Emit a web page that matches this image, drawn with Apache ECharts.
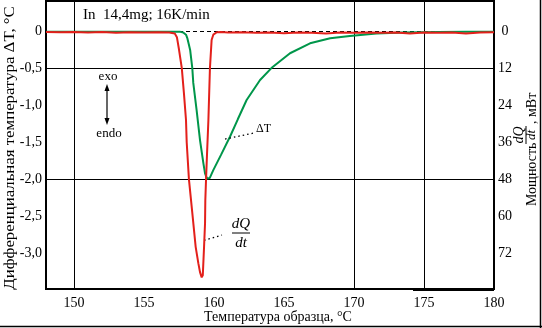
<!DOCTYPE html>
<html><head><meta charset="utf-8">
<script src="https://cdn.jsdelivr.net/npm/echarts@6/dist/echarts.min.js"></script>
<style>html,body{margin:0;padding:0;background:#fff}#c{width:542px;height:328px}</style>
</head><body><div id="c"></div>
<script>
// ---- data ----
const xTicks = [150, 155, 160, 165, 170, 175, 180];
const leftTicks = [0, -0.5, -1.0, -1.5, -2.0, -2.5, -3.0];
const leftTickLabels = ['0', '-0,5', '-1,0', '-1,5', '-2,0', '-2,5', '-3,0'];
const rightTicks = [0, 12, 24, 36, 48, 60, 72];
const gridX = [150, 170, 175];
const gridY = [-0.5, -2.0];

// ΔT curve (°C, left axis)
const dTtemp = [148, 150, 152, 154, 156, 157, 157.6, 157.8, 158.0, 158.1, 158.2, 158.3, 158.45, 158.52, 158.76, 159.0, 159.24, 159.36, 159.5, 159.6, 159.7, 159.95, 160.5, 161.14, 161.7, 162.33, 163.29, 164.1, 165.43, 166.86, 168.3, 169.7, 171.6, 173.5, 176, 178, 180];
const dTvals = [-0.01, -0.012, -0.01, -0.012, -0.01, -0.01, -0.012, -0.02, -0.05, -0.1, -0.18, -0.26, -0.5, -0.7, -1.07, -1.47, -1.78, -1.92, -1.99, -2.0, -1.98, -1.875, -1.67, -1.425, -1.19, -0.93, -0.66, -0.5, -0.3, -0.166, -0.099, -0.067, -0.035, -0.02, -0.015, -0.012, -0.01];

// dQ/dt curve (mW, right axis)
const dQtemp = [148, 149, 150, 151, 152, 153, 154, 155, 156, 156.8, 157.2, 157.35, 157.5, 157.6, 157.7, 157.85, 158.0, 158.05, 158.21, 158.45, 158.69, 158.88, 159.0, 159.12, 159.2, 159.24, 159.29, 159.36, 159.38, 159.43, 159.5, 159.6, 159.71, 159.83, 159.95, 160.2, 160.5, 161, 162, 163, 164, 165, 166, 167, 168, 169, 170, 171, 172, 173, 174, 175, 176, 177, 178, 179, 180];
const dQvals = [0.3, 0.4, 0.3, 0.5, 0.3, 0.6, 0.4, 0.5, 0.4, 0.5, 0.8, 2.0, 6, 9, 12, 20, 28.8, 36, 48, 58.8, 69.8, 75.1, 78, 79.7, 79, 78.5, 69.8, 62.2, 54.7, 48.2, 40, 28.8, 12, 2.9, 1.2, 0.4, 0.3, 0.5, 0.4, 0.6, 0.5, 0.7, 0.5, 0.6, 0.8, 0.5, 0.6, 0.5, 0.6, 0.5, 0.8, 0.5, 0.6, 0.5, 0.8, 0.5, 0.4];

// ---- chart ----
const FONT = 'Liberation Serif';
const RED = '#e3201b';
const GREEN = '#00964a';
const leftMin = -3.477, leftMax = 0.404;
const MW_PER_C = 24;

const chart = echarts.init(document.getElementById('c'), null, {renderer: 'canvas'});

const gridLines = gridX.map(v => ({xAxis: v})).concat(gridY.map(v => ({yAxis: v})));

chart.setOption({
  animation: false,
  backgroundColor: '#fff',
  grid: {left: 46, right: 48, top: 1, bottom: 39, show: true, borderColor: '#000', borderWidth: 2, backgroundColor: 'transparent'},
  xAxis: {
    type: 'value', min: 148, max: 180,
    axisLine: {show: false},
    axisTick: {show: false},
    splitLine: {show: false},
    axisLabel: {customValues: xTicks, margin: 7, color: '#000', fontFamily: FONT, fontSize: 14}
  },
  yAxis: [{
    type: 'value', min: leftMin, max: leftMax,
    axisLine: {show: false}, axisTick: {show: false}, splitLine: {show: false},
    axisLabel: {
      customValues: leftTicks, margin: 4, color: '#000', fontFamily: FONT, fontSize: 14,
      formatter: v => { const i = leftTicks.indexOf(v); return i >= 0 ? leftTickLabels[i] : ''; }
    }
  }, {
    type: 'value', inverse: true, min: -leftMax * MW_PER_C, max: -leftMin * MW_PER_C,
    position: 'right',
    axisLine: {show: false}, axisTick: {show: false}, splitLine: {show: false},
    axisLabel: {customValues: rightTicks, margin: 11, align: 'center', color: '#000', fontFamily: FONT, fontSize: 14,
      formatter: v => String(v)}
  }],
  series: [{
    name: 'grid', type: 'line', data: [], silent: true,
    markLine: {
      silent: true, symbol: ['none', 'none'], z: 1, animation: false,
      label: {show: false},
      lineStyle: {color: '#000', width: 1, type: 'solid'},
      data: gridLines.concat([{yAxis: 0, lineStyle: {type: [4, 3], width: 1, color: '#000'}}])
    }
  }, {
    name: 'ΔT', type: 'line', yAxisIndex: 0, showSymbol: false, z: 3,
    data: dTtemp.map((t, i) => [t, dTvals[i]]),
    lineStyle: {color: GREEN, width: 2},
    markLine: {
      silent: true, symbol: ['none', 'none'], z: 4, label: {show: false},
      lineStyle: {color: '#000', width: 1.3, type: [1.5, 3]},
      data: [[{coord: [160.79, -1.456]}, {coord: [162.86, -1.375]}]]
    }
  }, {
    name: 'dQ/dt', type: 'line', yAxisIndex: 1, showSymbol: false, z: 4,
    data: dQtemp.map((t, i) => [t, dQvals[i]]),
    lineStyle: {color: RED, width: 2},
    markLine: {
      silent: true, symbol: ['none', 'none'], z: 4, label: {show: false},
      lineStyle: {color: '#000', width: 1.3, type: [1.5, 3]},
      data: [[{coord: [159.29, 67.7]}, {coord: [160.57, 66.0]}]]
    }
  }],
  graphic: [
    {type: 'text', left: 83, top: 8, style: {text: 'In  14,4mg; 16K/min', font: '15px "Liberation Serif"', fill: '#000'}},
    {type: 'text', x: 108, y: 77, style: {text: 'exo', font: '13px "Liberation Serif"', fill: '#000', align: 'center', verticalAlign: 'middle'}},
    {type: 'line', shape: {x1: 107, y1: 88, x2: 107, y2: 121}, style: {stroke: '#000', lineWidth: 1.2}},
    {type: 'polygon', shape: {points: [[107, 84], [104.5, 91], [109.5, 91]]}, style: {fill: '#000'}},
    {type: 'polygon', shape: {points: [[107, 125], [104.5, 118], [109.5, 118]]}, style: {fill: '#000'}},
    {type: 'text', x: 109, y: 134, style: {text: 'endo', font: '13px "Liberation Serif"', fill: '#000', align: 'center', verticalAlign: 'middle'}},
    {type: 'text', x: 256, y: 129, style: {text: 'ΔT', font: '12px "Liberation Serif"', fill: '#000', align: 'left', verticalAlign: 'middle'}},
    {type: 'text', x: 241, y: 224, style: {text: 'dQ', font: 'italic 15px "Liberation Serif"', fill: '#000', align: 'center', verticalAlign: 'middle'}},
    {type: 'line', shape: {x1: 232, y1: 233, x2: 250, y2: 233}, style: {stroke: '#000', lineWidth: 1}},
    {type: 'text', x: 241, y: 243, style: {text: 'dt', font: 'italic 15px "Liberation Serif"', fill: '#000', align: 'center', verticalAlign: 'middle'}},
    // left axis title
    {type: 'text', x: 10, y: 148, rotation: Math.PI / 2, scaleX: 1.2, style: {text: 'Дифференциальная температура ΔT, °C', font: '14px "Liberation Serif"', fill: '#000', align: 'center', verticalAlign: 'middle'}},
    // x axis title
    {type: 'text', x: 278, y: 317, style: {text: 'Температура образца, °C', font: '14px "Liberation Serif"', fill: '#000', align: 'center', verticalAlign: 'middle'}},
    // right axis title (rotated group)
    {type: 'group', x: 532, y: 206, rotation: Math.PI / 2, children: [
      {type: 'text', x: 0, y: 0, style: {text: 'Мощность', font: '14px "Liberation Serif"', fill: '#000', align: 'left', verticalAlign: 'middle'}},
      {type: 'text', x: 71, y: -13, style: {text: 'dQ', font: 'italic 14px "Liberation Serif"', fill: '#000', align: 'center', verticalAlign: 'middle'}},
      {type: 'line', shape: {x1: 62, y1: -6, x2: 80, y2: -6}, style: {stroke: '#000', lineWidth: 1}},
      {type: 'text', x: 71, y: 0, style: {text: 'dt', font: 'italic 13px "Liberation Serif"', fill: '#000', align: 'center', verticalAlign: 'middle'}},
      {type: 'text', x: 82, y: 0, style: {text: ', мВт', font: '14px "Liberation Serif"', fill: '#000', align: 'left', verticalAlign: 'middle'}}
    ]},
    // outer frame lines
    {type: 'line', shape: {x1: 0, y1: 326.5, x2: 542, y2: 326.5}, style: {stroke: '#000', lineWidth: 1.5}},
    {type: 'line', shape: {x1: 540.5, y1: 0, x2: 540.5, y2: 328}, style: {stroke: '#000', lineWidth: 1.5}},
    {type: 'line', shape: {x1: 413, y1: 290.5, x2: 494, y2: 290.5}, style: {stroke: '#000', lineWidth: 1}}
  ]
});
</script></body></html>
